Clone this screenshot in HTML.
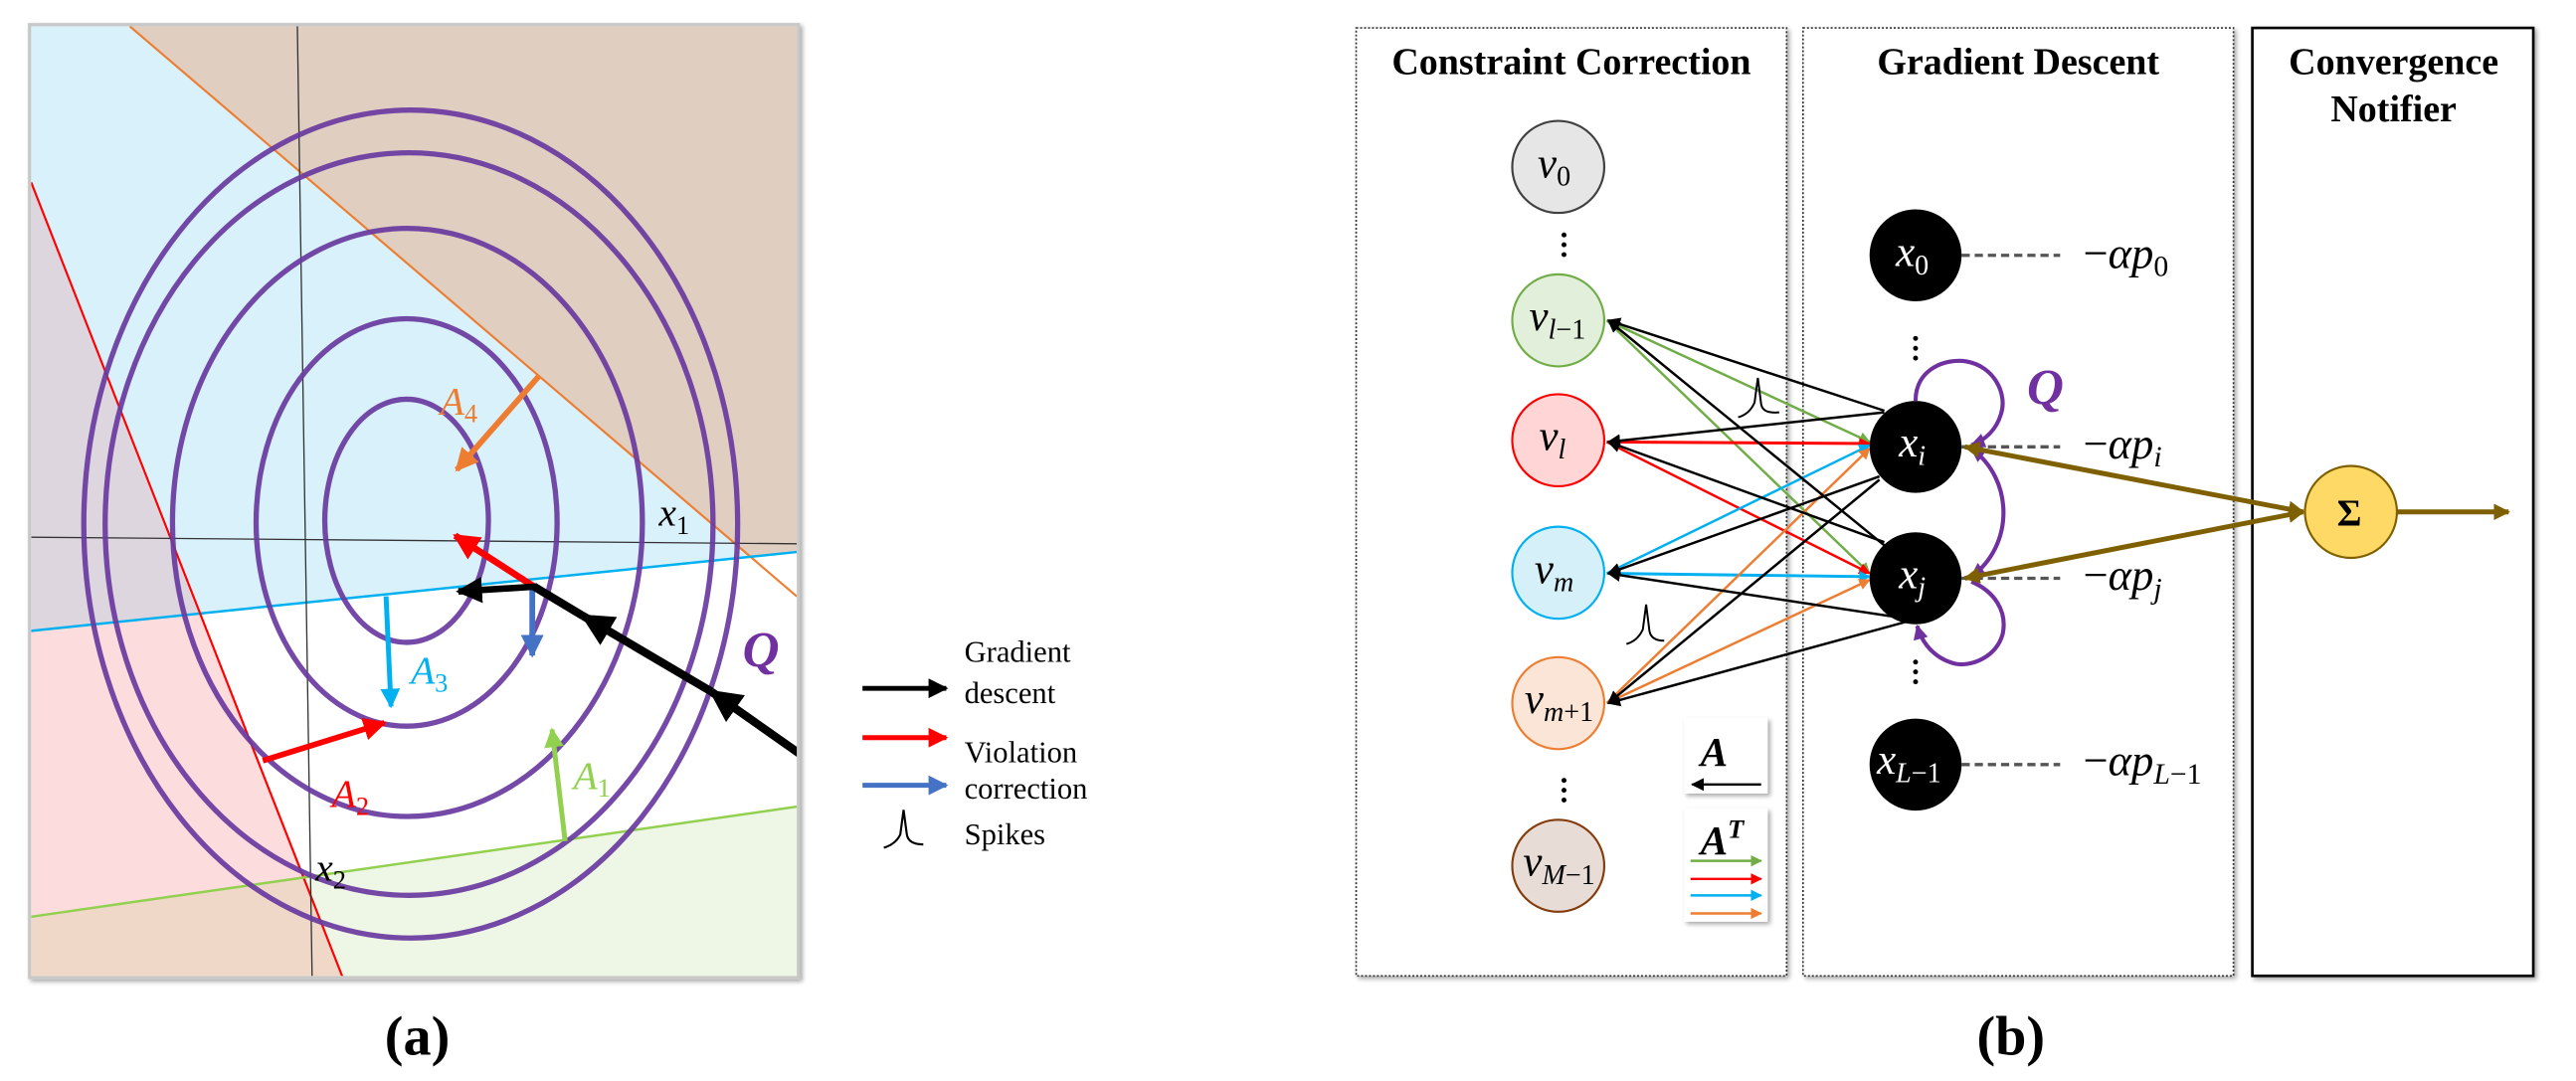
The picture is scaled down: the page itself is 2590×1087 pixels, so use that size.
<!DOCTYPE html>
<html><head><meta charset="utf-8"><style>
html,body{margin:0;padding:0;background:#fff;}
svg{display:block;}
text{font-family:"Liberation Serif",serif;}
.it{font-style:italic;}
.up{font-style:normal;}
</style></head><body>
<svg width="2590" height="1087" viewBox="0 0 1568 658" preserveAspectRatio="none" xmlns="http://www.w3.org/2000/svg">
<defs>
<clipPath id="fr"><rect x="19" y="16" width="466" height="578"/></clipPath>
<marker id="mk" viewBox="0 0 10 10" refX="9" refY="5" markerWidth="8" markerHeight="8" markerUnits="userSpaceOnUse" orient="auto"><path d="M0,0L10,5L0,10z" fill="#000"/></marker>
<marker id="mg" viewBox="0 0 10 10" refX="9" refY="5" markerWidth="7" markerHeight="7" markerUnits="userSpaceOnUse" orient="auto"><path d="M0,0L10,5L0,10z" fill="#70ad47"/></marker>
<marker id="mr" viewBox="0 0 10 10" refX="9" refY="5" markerWidth="7" markerHeight="7" markerUnits="userSpaceOnUse" orient="auto"><path d="M0,0L10,5L0,10z" fill="#ff0000"/></marker>
<marker id="mc" viewBox="0 0 10 10" refX="9" refY="5" markerWidth="7" markerHeight="7" markerUnits="userSpaceOnUse" orient="auto"><path d="M0,0L10,5L0,10z" fill="#00b0f0"/></marker>
<marker id="mo" viewBox="0 0 10 10" refX="9" refY="5" markerWidth="7" markerHeight="7" markerUnits="userSpaceOnUse" orient="auto"><path d="M0,0L10,5L0,10z" fill="#ed7d31"/></marker>
<marker id="mp" viewBox="0 0 10 10" refX="9" refY="5" markerWidth="9" markerHeight="9" markerUnits="userSpaceOnUse" orient="auto"><path d="M0,0L10,5L0,10z" fill="#7030a0"/></marker>
<marker id="mv" viewBox="0 0 10 10" refX="9" refY="5" markerWidth="10" markerHeight="10" markerUnits="userSpaceOnUse" orient="auto"><path d="M0,0L10,5L0,10z" fill="#7f6000"/></marker>
<marker id="mv2" viewBox="0 0 10 10" refX="9" refY="5" markerWidth="10" markerHeight="10" markerUnits="userSpaceOnUse" orient="auto-start-reverse"><path d="M0,0L10,5L0,10z" fill="#7f6000"/></marker>
<marker id="mp2" viewBox="0 0 10 10" refX="9" refY="5" markerWidth="9" markerHeight="9" markerUnits="userSpaceOnUse" orient="auto-start-reverse"><path d="M0,0L10,5L0,10z" fill="#7030a0"/></marker>
<marker id="bk" viewBox="0 0 10 10" refX="9" refY="5" markerWidth="4" markerHeight="4" orient="auto"><path d="M0,0L10,5L0,10z" fill="#000"/></marker>
<marker id="br" viewBox="0 0 10 10" refX="9" refY="5" markerWidth="4" markerHeight="4" orient="auto"><path d="M0,0L10,5L0,10z" fill="#ff0000"/></marker>
<marker id="bb" viewBox="0 0 10 10" refX="9" refY="5" markerWidth="4" markerHeight="4" orient="auto"><path d="M0,0L10,5L0,10z" fill="#4472c4"/></marker>
<marker id="bc" viewBox="0 0 10 10" refX="9" refY="5" markerWidth="4" markerHeight="4" orient="auto"><path d="M0,0L10,5L0,10z" fill="#00b0f0"/></marker>
<marker id="bg" viewBox="0 0 10 10" refX="9" refY="5" markerWidth="4" markerHeight="4" orient="auto"><path d="M0,0L10,5L0,10z" fill="#92d050"/></marker>
<marker id="bo" viewBox="0 0 10 10" refX="9" refY="5" markerWidth="4" markerHeight="4" orient="auto"><path d="M0,0L10,5L0,10z" fill="#ed7d31"/></marker>
<filter id="sh" x="-10%" y="-10%" width="130%" height="130%"><feDropShadow dx="1.5" dy="1.5" stdDeviation="1.5" flood-color="#000" flood-opacity="0.35"/></filter>
</defs>

<!-- ===== Panel (a) ===== -->
<rect x="18" y="15" width="468" height="580" fill="#fff" stroke="#c8c8c8" stroke-width="2" filter="url(#sh)"/>
<g clip-path="url(#fr)">
<rect x="19" y="16" width="466" height="578" fill="#e0cfc0"/>
<polygon points="19,16 79,16 457.5,339.7 19,384" fill="#d9f1fb"/>
<polygon points="457.5,339.7 485,336 485,363" fill="#fbdcc8"/>
<polygon points="19,384 485,336 485,491 19,558" fill="#ffffff"/>
<polygon points="19,558 485,491 485,596 19,596" fill="#eef6e6"/>
<polygon points="19,111 122.5,373.5 19,384" fill="#ddd6de"/>
<polygon points="122.5,373.5 185.7,534 19,558 19,384" fill="#fcdcdc"/>
<polygon points="185.7,534 209,596 19,596 19,558" fill="#efd8c8"/>
<line x1="79" y1="16" x2="485" y2="363" stroke="#ed7d31" stroke-width="1.3"/>
<line x1="19" y1="384" x2="485" y2="336" stroke="#00b0f0" stroke-width="1.5"/>
<line x1="19" y1="111" x2="209" y2="596" stroke="#ff0000" stroke-width="1.3"/>
<line x1="19" y1="558" x2="485" y2="491" stroke="#92d050" stroke-width="1.5"/>
<line x1="19" y1="327" x2="485" y2="331" stroke="#333" stroke-width="0.8"/>
<line x1="181" y1="16" x2="190" y2="596" stroke="#333" stroke-width="0.8"/>
<g fill="none" stroke="#6a3aa0" stroke-width="3.2" opacity="0.92">
<ellipse cx="247.5" cy="317" rx="49.8" ry="74"/>
<ellipse cx="247.5" cy="318" rx="91.6" ry="124"/>
<ellipse cx="248" cy="318" rx="143" ry="179"/>
<ellipse cx="249" cy="319" rx="185" ry="226"/>
<ellipse cx="250" cy="319" rx="199" ry="252"/>
</g>
<line x1="328" y1="229" x2="278" y2="286" stroke="#ed7d31" stroke-width="3.5" marker-end="url(#bo)"/>
<line x1="235" y1="363" x2="238" y2="430" stroke="#00b0f0" stroke-width="3" marker-end="url(#bc)"/>
<line x1="160" y1="463" x2="234" y2="440" stroke="#ff0000" stroke-width="3.5" marker-end="url(#br)"/>
<line x1="344" y1="512" x2="336" y2="444" stroke="#92d050" stroke-width="3" marker-end="url(#bg)"/>
<line x1="324" y1="359" x2="324" y2="399" stroke="#4472c4" stroke-width="3.5" marker-end="url(#bb)"/>
<line x1="325" y1="357" x2="277" y2="326" stroke="#ff0000" stroke-width="4" marker-end="url(#br)"/>
<g stroke="#000" stroke-width="5" fill="none">
<line x1="487" y1="459" x2="433" y2="421" marker-end="url(#bk)"/>
<line x1="433" y1="421" x2="355" y2="375" marker-end="url(#bk)"/>
<line x1="355" y1="375" x2="325" y2="357"/>
<line x1="327" y1="357" x2="279" y2="360" stroke-width="4" marker-end="url(#bk)"/>
</g>
</g>
<text x="268" y="252" class="it" font-size="24" fill="#ed7d31">A<tspan class="up" font-size="16" dy="5">4</tspan></text>
<text x="250" y="416" class="it" font-size="24" fill="#00b0f0">A<tspan class="up" font-size="16" dy="5">3</tspan></text>
<text x="202" y="491" class="it" font-size="24" fill="#ff0000">A<tspan class="up" font-size="16" dy="5">2</tspan></text>
<text x="349" y="480" class="it" font-size="24" fill="#92d050">A<tspan class="up" font-size="16" dy="5">1</tspan></text>
<text x="401" y="320" class="it" font-size="24" fill="#000">x<tspan class="up" font-size="16" dy="5">1</tspan></text>
<text x="192" y="536" class="it" font-size="24" fill="#000">x<tspan class="up" font-size="16" dy="5">2</tspan></text>
<text x="452" y="406" class="it" font-size="31" font-weight="bold" fill="#7030a0">Q</text>

<line x1="525" y1="419" x2="576" y2="419" stroke="#000" stroke-width="3" marker-end="url(#bk)"/>
<line x1="525" y1="449" x2="576" y2="449" stroke="#ff0000" stroke-width="3" marker-end="url(#br)"/>
<line x1="525" y1="478" x2="576" y2="478" stroke="#4472c4" stroke-width="3" marker-end="url(#bb)"/>
<g font-size="18.5" fill="#000">
<text x="587" y="403">Gradient</text>
<text x="587" y="428">descent</text>
<text x="587" y="464">Violation</text>
<text x="587" y="486">correction</text>
<text x="587" y="514">Spikes</text>
</g>
<path d="M538,516 Q545,514 548,508 L550,493 L552,508 Q553,514 562,514" fill="none" stroke="#000" stroke-width="1.3"/>
<text x="254" y="642" font-size="34" font-weight="bold" text-anchor="middle">(a)</text>

<!-- ===== Panel (b) ===== -->
<rect x="825.5" y="17" width="262" height="577" fill="#fff" stroke="#333" stroke-width="1" stroke-dasharray="1.2,1.2" filter="url(#sh)"/>
<rect x="1097.5" y="17" width="262" height="577" fill="#fff" stroke="#333" stroke-width="1" stroke-dasharray="1.2,1.2" filter="url(#sh)"/>
<rect x="1371" y="17" width="171" height="577" fill="#fff" stroke="#000" stroke-width="1.6" filter="url(#sh)"/>
<g font-size="23" font-weight="bold" text-anchor="middle" fill="#000">
<text x="956.5" y="45">Constraint Correction</text>
<text x="1228.5" y="45">Gradient Descent</text>
<text x="1457" y="45">Convergence</text>
<text x="1457" y="74">Notifier</text>
</g>

<g stroke-width="1.5" fill="none">
<line x1="978" y1="195" x2="1138" y2="269" stroke="#70ad47" marker-end="url(#mg)"/>
<line x1="978" y1="195" x2="1138" y2="349" stroke="#70ad47" marker-end="url(#mg)"/>
<line x1="978" y1="269" x2="1138" y2="270" stroke="#ff0000" stroke-width="1.8" marker-end="url(#mr)"/>
<line x1="978" y1="269" x2="1138" y2="349" stroke="#ff0000" marker-end="url(#mr)"/>
<line x1="978" y1="349" x2="1138" y2="271" stroke="#00b0f0" marker-end="url(#mc)"/>
<line x1="978" y1="349" x2="1138" y2="351" stroke="#00b0f0" stroke-width="1.8" marker-end="url(#mc)"/>
<line x1="978" y1="428" x2="1138" y2="273" stroke="#ed7d31" marker-end="url(#mo)"/>
<line x1="978" y1="428" x2="1138" y2="353" stroke="#ed7d31" marker-end="url(#mo)"/>
<g stroke="#000">
<line x1="1147" y1="250" x2="979" y2="195" marker-end="url(#mk)"/>
<line x1="1147" y1="251" x2="979" y2="269" marker-end="url(#mk)"/>
<line x1="1147" y1="332" x2="979" y2="195" marker-end="url(#mk)"/>
<line x1="1147" y1="330" x2="979" y2="269" marker-end="url(#mk)"/>
<line x1="1144" y1="290" x2="979" y2="349" marker-end="url(#mk)"/>
<line x1="1144" y1="292" x2="979" y2="428" marker-end="url(#mk)"/>
<line x1="1157" y1="376" x2="979" y2="349" marker-end="url(#mk)"/>
<line x1="1162" y1="378" x2="979" y2="428" marker-end="url(#mk)"/>
</g>
</g>
<path d="M1058,254 Q1065,252 1068,245 L1070,230 L1072,246 Q1073,252 1083,251" fill="none" stroke="#000" stroke-width="1.2"/>
<path d="M990,392 Q997,390 1000,383 L1002,368 L1004,384 Q1005,390 1013,390" fill="none" stroke="#000" stroke-width="1.2"/>

<g stroke-width="1.3">
<circle cx="948.5" cy="101.6" r="28" fill="#e7e6e6" stroke="#404040"/>
<circle cx="948.5" cy="195" r="28" fill="#e2efda" stroke="#70ad47"/>
<circle cx="948.5" cy="268" r="28" fill="#ffd5d5" stroke="#ff0000"/>
<circle cx="948.5" cy="348.6" r="28" fill="#d6f0fa" stroke="#00b0f0"/>
<circle cx="948.5" cy="428" r="28" fill="#fbe5d6" stroke="#ed7d31"/>
<circle cx="948.5" cy="527" r="28" fill="#e8dcd6" stroke="#843c0c"/>
</g>
<g class="it" font-size="26" fill="#000" text-anchor="middle">
<text x="946" y="108">v<tspan class="up" font-size="17" dy="5">0</tspan></text>
<text x="948" y="201">v<tspan font-size="17" dy="5">l</tspan><tspan class="up" font-size="17">−1</tspan></text>
<text x="945" y="274">v<tspan font-size="17" dy="5">l</tspan></text>
<text x="946" y="355">v<tspan font-size="17" dy="5">m</tspan></text>
<text x="949" y="434">v<tspan font-size="17" dy="5">m</tspan><tspan class="up" font-size="17">+1</tspan></text>
<text x="949" y="533">v<tspan font-size="17" dy="5">M</tspan><tspan class="up" font-size="17">−1</tspan></text>
</g>
<g fill="#000">
<circle cx="952" cy="143" r="1.5"/><circle cx="952" cy="149" r="1.5"/><circle cx="952" cy="155" r="1.5"/>
<circle cx="952" cy="475" r="1.5"/><circle cx="952" cy="481" r="1.5"/><circle cx="952" cy="487" r="1.5"/>
<circle cx="1166" cy="206" r="1.5"/><circle cx="1166" cy="212" r="1.5"/><circle cx="1166" cy="218" r="1.5"/>
<circle cx="1166" cy="403" r="1.5"/><circle cx="1166" cy="409" r="1.5"/><circle cx="1166" cy="415" r="1.5"/>
</g>

<g stroke="#555" stroke-width="2" stroke-dasharray="5,3">
<line x1="1194" y1="155.4" x2="1254" y2="155.4"/>
<line x1="1194" y1="272" x2="1254" y2="272"/>
<line x1="1194" y1="352" x2="1254" y2="352"/>
<line x1="1194" y1="465.4" x2="1254" y2="465.4"/>
</g>
<g fill="#000">
<circle cx="1166" cy="155.4" r="28"/>
<circle cx="1166" cy="272" r="28"/>
<circle cx="1166" cy="352" r="28"/>
<circle cx="1166" cy="465.4" r="28"/>
</g>
<g class="it" font-size="26" fill="#fff" text-anchor="middle">
<text x="1164" y="162">x<tspan class="up" font-size="17" dy="5">0</tspan></text>
<text x="1164" y="278">x<tspan font-size="17" dy="5">i</tspan></text>
<text x="1164" y="358">x<tspan font-size="17" dy="5">j</tspan></text>
<text x="1162" y="471">x<tspan font-size="17" dy="5">L</tspan><tspan class="up" font-size="17">−1</tspan></text>
</g>
<g class="it" font-size="27" fill="#000">
<text x="1268" y="163"><tspan class="up">−</tspan>αp<tspan class="up" font-size="18" dy="5">0</tspan></text>
<text x="1268" y="279"><tspan class="up">−</tspan>αp<tspan font-size="18" dy="5">i</tspan></text>
<text x="1268" y="359"><tspan class="up">−</tspan>αp<tspan font-size="18" dy="5">j</tspan></text>
<text x="1268" y="472"><tspan class="up">−</tspan>αp<tspan font-size="18" dy="5">L</tspan><tspan class="up" font-size="18">−1</tspan></text>
</g>

<g fill="none" stroke="#7030a0" stroke-width="2.5">
<path d="M1166,244 C1166,224 1185,218 1197,220 C1214,223 1222,240 1218,252 C1215,262 1208,268 1200,271" marker-end="url(#mp)"/>
<path d="M1200,273 C1226,292 1226,332 1200,351" marker-start="url(#mp2)" marker-end="url(#mp)"/>
<path d="M1200,354 C1214,360 1222,372 1219,386 C1215,400 1200,406 1190,404 C1178,401 1170,392 1167,381" marker-end="url(#mp)"/>
</g>
<text x="1245" y="246" class="it" font-size="31" font-weight="bold" fill="#7030a0" text-anchor="middle">Q</text>

<g stroke="#7f6000" stroke-width="3" fill="none">
<line x1="1196" y1="272" x2="1402" y2="311.6" marker-start="url(#mv2)" marker-end="url(#mv)"/>
<line x1="1196" y1="352" x2="1402" y2="311.6" marker-start="url(#mv2)" marker-end="url(#mv)"/>
<line x1="1459" y1="311.6" x2="1527" y2="311.6" marker-end="url(#mv)"/>
</g>
<circle cx="1431" cy="311.6" r="28" fill="#ffd966" stroke="#7f6000" stroke-width="1.3"/>
<text x="1430" y="320" font-size="23" font-weight="bold" text-anchor="middle" fill="#000">Σ</text>

<rect x="1025" y="437" width="51" height="46" fill="#fff" filter="url(#sh)"/>
<text x="1035" y="466" class="it" font-size="25" font-weight="bold">A</text>
<line x1="1072" y1="477.5" x2="1030" y2="477.5" stroke="#000" stroke-width="1.5" marker-end="url(#mk)"/>
<rect x="1025" y="492" width="51" height="69" fill="#fff" filter="url(#sh)"/>
<text x="1035" y="520" class="it" font-size="25" font-weight="bold">A<tspan font-size="16" dy="-10">T</tspan></text>
<line x1="1029" y1="524" x2="1072" y2="524" stroke="#70ad47" stroke-width="1.5" marker-end="url(#mg)"/>
<line x1="1029" y1="535" x2="1072" y2="535" stroke="#ff0000" stroke-width="1.5" marker-end="url(#mr)"/>
<line x1="1029" y1="545" x2="1072" y2="545" stroke="#00b0f0" stroke-width="1.5" marker-end="url(#mc)"/>
<line x1="1029" y1="556" x2="1072" y2="556" stroke="#ed7d31" stroke-width="1.5" marker-end="url(#mo)"/>

<text x="1224" y="642" font-size="34" font-weight="bold" text-anchor="middle">(b)</text>
</svg>
</body></html>
